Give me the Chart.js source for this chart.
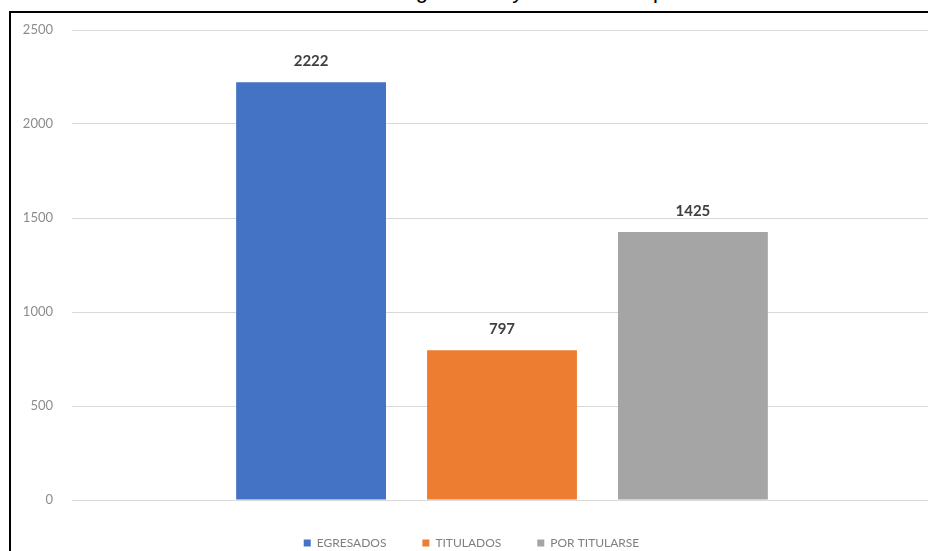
<!DOCTYPE html>
<html>
<head>
<meta charset="utf-8">
<script src="https://cdn.jsdelivr.net/npm/chart.js@4.4.1/dist/chart.umd.min.js"></script>
<style>
  html, body { margin: 0; padding: 0; background: #fff; overflow: hidden; }
  #page { position: relative; width: 928px; height: 551px; overflow: hidden; }
  #title { position: absolute; left: 0; top: -22px; width: 1000px; text-align: center;
           font: 22px "Liberation Sans", Arial, sans-serif; color: #000; white-space: nowrap; }
  #frame { position: absolute; left: 9px; top: 11px; width: 940px; height: 560px;
           border: 2px solid #000; background: #fff; }
  #wrap { position: absolute; left: 0; top: 0; width: 940px; height: 560px; }
</style>
</head>
<body>
<div id="page">
<div id="title">Gráfico N° 1: Estudiantes egresados y titulados del periodo 2015 - 2019</div>
<div id="frame"><div id="wrap"><canvas id="c" width="940" height="560"></canvas></div></div>
</div>
<script>
const categories = [""];
const seriesNames = ["EGRESADOS", "TITULADOS", "POR TITULARSE"];
const egresados = [2222];
const titulados = [797];
const porTitularse = [1425];
const yTicks = [0, 500, 1000, 1500, 2000, 2500];

const colors = ["#4472C4", "#ED7D31", "#A5A5A5"];
const values = [egresados, titulados, porTitularse];

const valueLabels = {
  id: "valueLabels",
  afterDatasetsDraw(chart) {
    const ctx = chart.ctx;
    ctx.save();
    ctx.font = "bold 15px Lato, 'Open Sans', sans-serif";
    ctx.fillStyle = "#404040";
    ctx.textAlign = "center";
    ctx.textBaseline = "middle";
    chart.data.datasets.forEach((ds, i) => {
      const meta = chart.getDatasetMeta(i);
      meta.data.forEach((bar, j) => {
        ctx.fillText(String(ds.data[j]), bar.x, bar.y - 21);
      });
    });
    ctx.restore();
  }
};

new Chart(document.getElementById("c"), {
  type: "bar",
  data: {
    labels: categories,
    datasets: seriesNames.map((n, i) => ({
      label: n,
      data: values[i],
      backgroundColor: colors[i],
      borderWidth: 0,
      categoryPercentage: 0.666,
      barPercentage: 0.785
    }))
  },
  options: {
    responsive: false,
    animation: false,
    devicePixelRatio: 1,
    layout: { padding: { top: 17, right: 19, bottom: 14, left: 0 } },
    plugins: {
      legend: {
        position: "bottom",
        labels: {
          usePointStyle: true,
          pointStyle: "rect",
          boxWidth: 7,
          boxHeight: 7,
          padding: 36,
          color: "#7f7f7f",
          font: { family: "Lato, 'Open Sans', sans-serif", size: 12 }
        }
      },
      tooltip: { enabled: false },
      title: { display: false }
    },
    scales: {
      x: {
        ticks: { display: false },
        grid: { display: false },
        border: { display: false },
        afterFit(s) { s.height = 1; }
      },
      y: {
        min: 0,
        max: 2500,
        afterBuildTicks(s) { s.ticks = yTicks.map(v => ({ value: v })); },
        ticks: {
          padding: 0,
          color: "#8c8c8c",
          font: { family: "Lato, 'Open Sans', sans-serif", size: 13 },
          callback: v => String(v)
        },
        grid: { color: "#d9d9d9", lineWidth: 1, drawTicks: true, tickLength: 19, tickColor: "rgba(0,0,0,0)" },
        border: { display: false },
        afterFit(s) { s.width = 61; }
      }
    }
  },
  plugins: [valueLabels]
});
</script>
</body>
</html>
